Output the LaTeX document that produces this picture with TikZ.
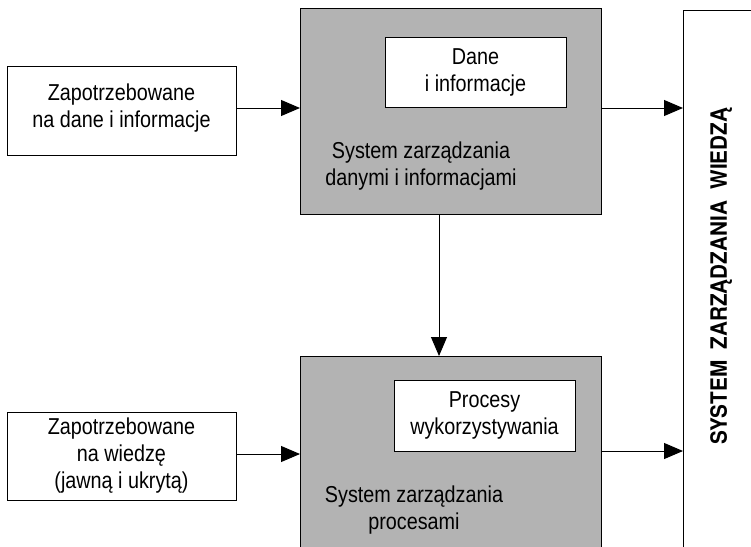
\documentclass[tikz,border=0pt]{standalone}
\usepackage{fontspec}
\setmainfont{Liberation Sans}[FakeStretch=0.86]
\newfontfamily\rotfont{texgyreheros-bold.otf}[FakeStretch=0.92]
\usetikzlibrary{arrows.meta}
\definecolor{boxgray}{RGB}{179,179,179}
\tikzset{
  box/.style={draw=black, line width=1.2pt, fill=white, inner sep=0pt, anchor=north west},
  graybox/.style={draw=black, line width=1.4pt, fill=boxgray, inner sep=0pt, anchor=north west},
  txt/.style={align=center, inner sep=0pt, font=\fontsize{23}{27}\selectfont},
  conn/.style={line width=1pt, -{Triangle[length=19pt,width=16pt]}}
}
\begin{document}
\begin{tikzpicture}[x=1pt,y=-1pt]
\useasboundingbox (0,0) rectangle (751,546);
\clip (0,0) rectangle (751,546);
% right big box
\node[box, minimum width=90pt, minimum height=560pt] (R) at (683,10) {};
\node[rotate=90, inner sep=0pt, font=\rotfont\fontsize{22.5}{26}\selectfont] (Rt) at (721,276) {SYSTEM\ \ ZARZĄDZANIA\ \ WIEDZĄ};
% top row
\node[box, minimum width=229pt, minimum height=89pt] (n1) at (7,66) {};
\node[txt] (n1t) at (121.5,108) {Zapotrzebowane\\na dane i informacje};
\node[graybox, minimum width=301pt, minimum height=206pt] (g1) at (300,8) {};
\node[box, minimum width=181pt, minimum height=70pt] (d1) at (385,37) {};
\node[txt] (d1t) at (475.5,72) {Dane\\i informacje};
\node[txt] (g1t) at (421,166) {System zarządzania\\danymi i informacjami};
% bottom row
\node[box, minimum width=229pt, minimum height=88pt] (n2) at (7,412) {};
\node[txt] (n2t) at (121.5,456) {Zapotrzebowane\\na wiedzę\\(jawną i ukrytą)};
\node[graybox, minimum width=301pt, minimum height=220pt] (g2) at (300,356) {};
\node[box, minimum width=181pt, minimum height=71pt] (d2) at (394,380) {};
\node[txt] (d2t) at (484.5,415.5) {Procesy\\wykorzystywania};
\node[txt] (g2t) at (414,510) {System zarządzania\\procesami};
% connectors
\coordinate (a1) at (236,108);
\coordinate (a2) at (601,108);
\coordinate (v1) at (439,214);
\coordinate (b1) at (236,454);
\coordinate (b2) at (601,451);
\draw[conn] (a1) -- (a1 -| g1.west);
\draw[conn] (a2) -- (a2 -| R.west);
\draw[conn] (v1) -- (v1 |- g2.north);
\draw[conn] (b1) -- (b1 -| g2.west);
\draw[conn] (b2) -- (b2 -| R.west);
\end{tikzpicture}
\end{document}
